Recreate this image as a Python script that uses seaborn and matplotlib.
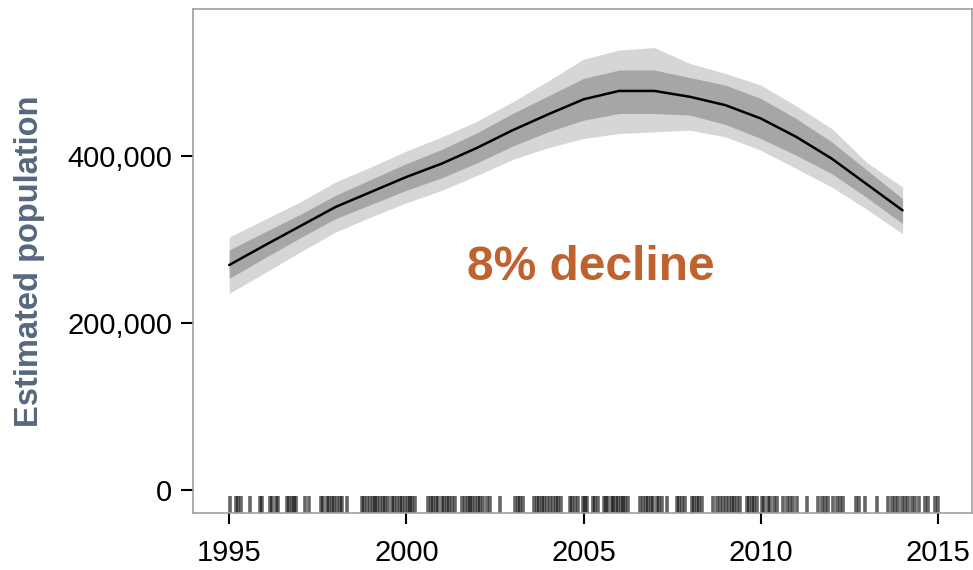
import matplotlib
matplotlib.use("Agg")
import matplotlib.pyplot as plt
import matplotlib.ticker as mticker
import seaborn as sns
import pandas as pd
import numpy as np

years = list(range(1995, 2015))
estimate = [269500, 293000, 316000, 339000, 357000, 375000, 391000, 410000, 431000, 450000,
            468000, 478000, 478000, 471000, 461000, 445000, 423000, 397000, 366000, 335000]
inner_upper = [287500, 309000, 330000, 353000, 372000, 391000, 408000, 428000, 451000, 472000,
               493000, 503000, 503000, 494000, 485000, 469000, 445000, 417000, 383000, 349000]
inner_lower = [253500, 278000, 302000, 325000, 342000, 359000, 374000, 392000, 412000, 429000,
               443000, 451000, 451000, 449000, 438000, 421000, 401000, 379000, 350000, 319000]
outer_upper = [303000, 324000, 345000, 369000, 387000, 406000, 423000, 442000, 465000, 490000,
               516000, 527000, 530000, 511000, 499000, 485000, 460000, 433000, 392000, 363000]
outer_lower = [235500, 260000, 285000, 309000, 327000, 344000, 359000, 377000, 396000, 410000,
               421000, 427000, 429000, 431000, 423000, 407000, 385000, 363000, 336000, 307000]

survey_dates = [
    1995.03, 1995.20, 1995.26, 1995.33, 1995.59, 1995.87, 1995.92, 1996.16, 1996.20, 1996.33,
    1996.39, 1996.63, 1996.70, 1996.77, 1996.83, 1996.89, 1997.14, 1997.24, 1997.59, 1997.66,
    1997.76, 1997.83, 1997.90, 1997.96, 1998.04, 1998.13, 1998.18, 1998.32, 1998.74, 1998.81,
    1998.88, 1998.98, 1999.05, 1999.12, 1999.18, 1999.26, 1999.34, 1999.40,
    1999.49, 1999.59, 1999.66, 1999.73, 1999.82, 1999.89, 1999.96, 2000.04, 2000.11, 2000.17,
    2000.25, 2000.62, 2000.70, 2000.76, 2000.83, 2000.90, 2001.00, 2001.07, 2001.14, 2001.21,
    2001.28, 2001.36, 2001.58, 2001.66, 2001.73, 2001.80, 2001.86, 2001.94, 2002.02, 2002.08,
    2002.17, 2002.27, 2002.36, 2002.65, 2003.07, 2003.14, 2003.21, 2003.30, 2003.61, 2003.68,
    2003.75, 2003.82, 2003.89, 2003.96, 2004.06, 2004.15, 2004.22, 2004.29, 2004.37, 2004.62,
    2004.68, 2004.76, 2004.84,
    2004.99, 2005.04, 2005.09, 2005.26, 2005.32, 2005.42, 2005.58, 2005.64, 2005.70, 2005.80,
    2005.84, 2005.92, 2005.98, 2006.05, 2006.11, 2006.17, 2006.24, 2006.59, 2006.69, 2006.76,
    2006.83, 2006.90, 2006.97, 2007.07, 2007.14, 2007.21, 2007.35, 2007.63, 2007.70, 2007.77,
    2007.86, 2008.05, 2008.12, 2008.19, 2008.27, 2008.33, 2008.66, 2008.76, 2008.85, 2008.93,
    2009.02, 2009.09, 2009.18, 2009.25, 2009.32, 2009.41, 2009.60, 2009.68, 2009.75, 2009.81,
    2009.89, 2010.03, 2010.09, 2010.19, 2010.26, 2010.36, 2010.45,
    2010.64, 2010.73, 2010.83, 2010.92, 2011.02, 2011.30, 2011.62, 2011.72, 2011.81, 2011.91,
    2012.05, 2012.14, 2012.24, 2012.33, 2012.69, 2012.78, 2012.94, 2013.27, 2013.60, 2013.69,
    2013.79, 2013.88, 2013.98, 2014.07, 2014.16, 2014.26, 2014.35, 2014.45, 2014.63, 2014.73,
    2014.92, 2015.01,
]

x_ticks = [1995, 2000, 2005, 2010, 2015]
y_ticks = [0, 200000, 400000]
annotation = "8% decline"
y_label = "Estimated population"

sns.set_theme(style="white")
plt.rcParams["font.family"] = ["Liberation Sans", "DejaVu Sans"]

df = pd.DataFrame({"year": years, "estimate": estimate,
                   "inner_upper": inner_upper, "inner_lower": inner_lower,
                   "outer_upper": outer_upper, "outer_lower": outer_lower})
rug_df = pd.DataFrame({"date": survey_dates})

fig = plt.figure(figsize=(9.73, 5.70), dpi=100)
ax = fig.add_axes([0.1984, 0.1, 0.8006, 0.884])

ax.fill_between(df["year"], df["outer_lower"], df["outer_upper"], color="#d6d6d6", linewidth=0, zorder=1)
ax.fill_between(df["year"], df["inner_lower"], df["inner_upper"], color="#a6a6a6", linewidth=0, zorder=2)
sns.lineplot(data=df, x="year", y="estimate", color="black", linewidth=1.8, ax=ax, zorder=3)
sns.rugplot(data=rug_df, x="date", height=0.034, color="black", alpha=0.6, linewidth=2.6, ax=ax)

ax.set_xlim(1993.98, 2015.96)
ax.set_ylim(-27500, 576000)
ax.set_xticks(x_ticks)
ax.set_yticks(y_ticks)
ax.yaxis.set_major_formatter(mticker.FuncFormatter(lambda v, p: f"{int(v):,}"))
ax.tick_params(axis="both", which="major", labelsize=21, colors="black", direction="out",
               width=1.5, left=True, bottom=True)
ax.tick_params(axis="y", length=9, pad=6)
ax.tick_params(axis="x", length=8, pad=11)
for sp in ax.spines.values():
    sp.set_color("#a0a0a0")
    sp.set_linewidth(1.2)
    sp.set_visible(True)

ax.set_xlabel("")
ax.set_ylabel(y_label, fontsize=23.5, fontweight="bold", color="#56677f", labelpad=16)
ax.text(2005.2, 266000, annotation, fontsize=34.5, fontweight="bold", color="#c0622f",
        ha="center", va="center")

fig.savefig("out.png", dpi=100)
